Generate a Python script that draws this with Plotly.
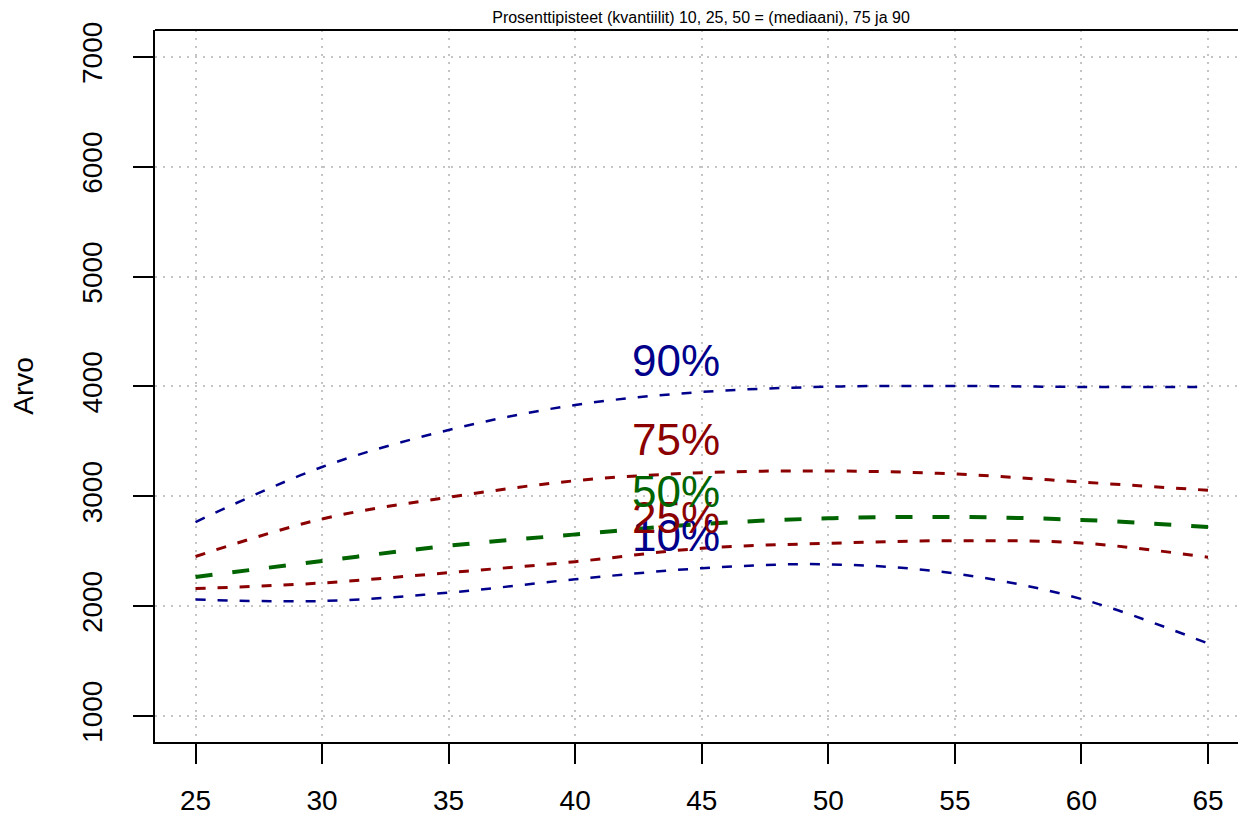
import plotly.graph_objects as go

age = [25, 30, 35, 40, 45, 50, 55, 60, 65]
p10 = [2060, 2047, 2123, 2245, 2345, 2381, 2297, 2065, 1660]
p25 = [2160, 2211, 2305, 2405, 2527, 2572, 2596, 2575, 2445]
p50 = [2266, 2411, 2550, 2653, 2748, 2800, 2812, 2785, 2721]
p75 = [2452, 2794, 2991, 3142, 3215, 3231, 3203, 3130, 3055]
p90 = [2766, 3267, 3604, 3832, 3950, 3998, 4005, 3996, 3996]

labels = ["10%", "25%", "50%", "75%", "90%"]
label_x = [44, 44, 44, 44, 44]
label_y = [2639, 2807, 3040, 3513, 4241]

x_ticks = [25, 30, 35, 40, 45, 50, 55, 60, 65]
y_ticks = [1000, 2000, 3000, 4000, 5000, 6000, 7000]

NAVY = "#00008B"
RED = "#8B0000"
GREEN = "#006400"

series = [
    (p10, NAVY, 2.5, "10px,12px"),
    (p25, RED, 3, "10px,12px"),
    (p50, GREEN, 4, "17px,20px"),
    (p75, RED, 3, "10px,12px"),
    (p90, NAVY, 2.5, "10px,12px"),
]
colors = [NAVY, RED, GREEN, RED, NAVY]

FONT = "Liberation Sans, Arial, Helvetica, sans-serif"

fig = go.Figure()
for ys, col, w, dash in series:
    fig.add_trace(go.Scatter(x=age, y=ys, mode="lines",
                             line=dict(color=col, width=w, dash=dash, shape="spline"),
                             showlegend=False, hoverinfo="skip"))

for t, xx, yy, c in zip(labels, label_x, label_y, colors):
    fig.add_annotation(x=xx, y=yy, xref="x", yref="y", text=t, showarrow=False,
                       font=dict(family=FONT, size=44, color=c),
                       xanchor="center", yanchor="middle")

# top border of the box
fig.add_shape(type="line", xref="paper", yref="paper", x0=0, x1=1.01, y0=1, y1=1,
              line=dict(color="black", width=2))

W, H = 1246, 818
fig.update_layout(
    width=W, height=H,
    margin=dict(l=147, r=7, t=22, b=84, autoexpand=False),
    paper_bgcolor="white", plot_bgcolor="white",
    font=dict(family=FONT, color="black"),
    title=dict(text="Prosenttipisteet (kvantiilit) 10, 25, 50 = (mediaani), 75 ja 90",
               x=693 / W, xanchor="center", y=1 - 9 / H, yanchor="middle",
               font=dict(size=16, family=FONT, color="black"), automargin=False),
)

GRID = "#c4c4c4"
fig.update_xaxes(range=[23.4, 66.54], tickvals=x_ticks, ticktext=[str(v) for v in x_ticks],
                 ticks="outside", ticklen=20, tickwidth=2, tickcolor="black",
                 showline=True, linecolor="black", linewidth=2,
                 showgrid=True, gridcolor=GRID, griddash="2px,6px", gridwidth=1.5,
                 zeroline=False, tickfont=dict(size=28, family=FONT, color="black"),
                 ticklabelstandoff=12, automargin=False)
fig.update_yaxes(range=[763, 7246], tickvals=y_ticks, ticktext=[str(v) for v in y_ticks],
                 ticks="outside", ticklen=20, tickwidth=2, tickcolor="black",
                 showline=True, linecolor="black", linewidth=2,
                 showgrid=True, gridcolor=GRID, griddash="2px,6px", gridwidth=1.5,
                 zeroline=False, tickangle=-90,
                 tickfont=dict(size=28, family=FONT, color="black"),
                 title=dict(text="Arvo", font=dict(size=28, family=FONT, color="black"), standoff=44),
                 ticklabelstandoff=20, automargin=False)

fig.write_html("out.html")
